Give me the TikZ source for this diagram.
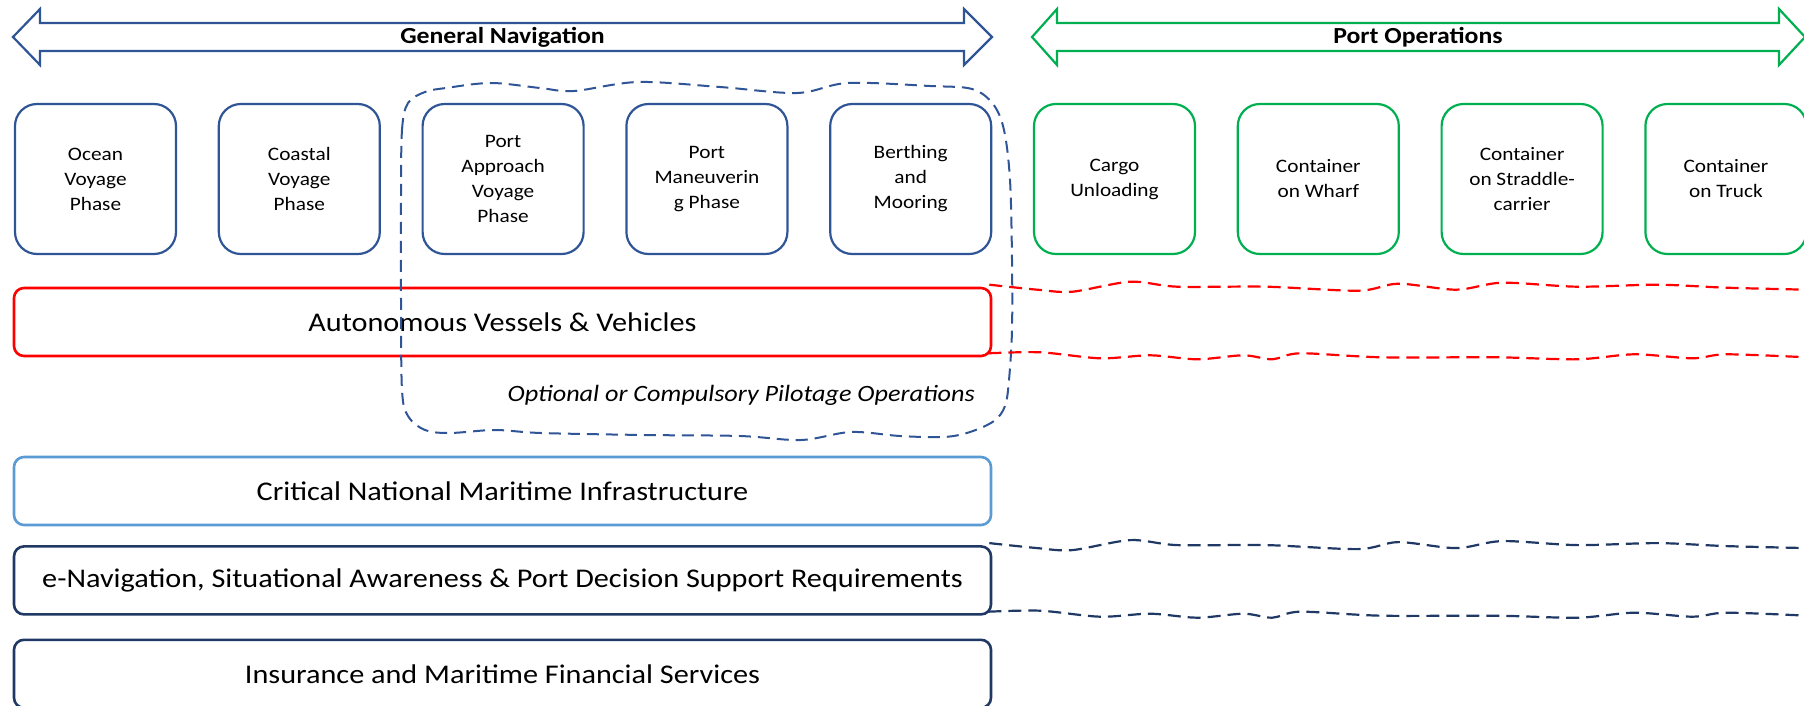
\documentclass[tikz,border=0pt]{standalone}
\usepackage{fontspec}
\setmainfont{Carlito}[FakeStretch=1.12]
\usepackage{tikz}
\usetikzlibrary{positioning}
\definecolor{navblue}{HTML}{2F5597}
\definecolor{navy}{HTML}{203864}
\definecolor{portgreen}{HTML}{00B050}
\definecolor{critblue}{HTML}{5B9BD5}

\begin{document}
\begin{tikzpicture}[
  x=0.5pt, y=-0.5pt,
  node distance=20.3pt,
  phase/.style={rectangle, rounded corners=11pt, draw=navblue, line width=1.1pt, minimum width=80.5pt, minimum height=75pt, inner sep=2pt, align=center, font=\fontsize{9.5}{12.5}\selectfont},
  layer/.style={rectangle, rounded corners=5pt, line width=1.3pt, minimum width=488.5pt, minimum height=34pt, font=\fontsize{13.5}{16}\selectfont},
  band/.style={line width=1.1pt, fill=white, line join=miter},
  wave/.style={dash pattern=on 6.5pt off 3.5pt, line width=1.1pt},
  pilot/.style={draw=navblue, dash pattern=on 6pt off 3.5pt, line width=1pt},
]
\useasboundingbox (0,0) rectangle (1804,706);

% double-headed bands on top
\draw[band, draw=navblue] (13,37) -- (40,9) -- (40,23) -- (964,23) -- (964,9) -- (992,37) -- (964,65) -- (964,51) -- (40,51) -- (40,65) -- cycle;
\draw[band, draw=portgreen] (1032,37) -- (1057,9) -- (1057,23) -- (1779,23) -- (1779,9) -- (1805,37) -- (1779,65) -- (1779,51) -- (1057,51) -- (1057,65) -- cycle;
\node[font=\bfseries\fontsize{11.5}{14}\selectfont] (gn) at (502.5,37) {General Navigation};
\node[font=\bfseries\fontsize{11.5}{14}\selectfont] (po) at (1418,37) {Port Operations};

% phases
\node[phase] (ocean) at (95.5,179) {Ocean\\Voyage\\Phase};
\node[phase, right=of ocean] (coastal) {Coastal\\Voyage\\Phase};
\node[phase, right=of coastal] (approach) {Port\\Approach\\Voyage\\Phase};
\node[phase, right=of approach] (maneuver) {Port\\Maneuverin\\g Phase};
\node[phase, right=of maneuver] (berth) {Berthing\\and\\Mooring};
\node[phase, draw=portgreen, right=of berth] (cargo) {Cargo\\Unloading};
\node[phase, draw=portgreen, right=of cargo] (wharf) {Container\\on Wharf};
\node[phase, draw=portgreen, right=of wharf] (straddle) {Container\\on Straddle-\\carrier};
\node[phase, draw=portgreen, right=of straddle] (truck) {Container\\on Truck};

% layers
\node[layer, draw=red] (auto) at (502.5,322) {Autonomous Vessels \& Vehicles};
\node[layer, draw=critblue] (crit) at (502.5,491) {Critical National Maritime Infrastructure};
\node[layer, draw=navy, below=9.4pt of crit] (enav) {e-Navigation, Situational Awareness \& Port Decision Support Requirements};
\node[layer, draw=navy, below=11.4pt of enav] (ins) {Insurance and Maritime Financial Services};

% pilotage region
\draw[pilot] plot[smooth cycle, tension=0.55] coordinates {(401,200) (402,130) (408,103) (425,92) (446,88) (491,83) (540,88) (574,91) (638,82) (720,87) (797,93) (848,83) (930,86) (972,89) (993,104) (1004,130) (1010,180) (1012,260) (1012,330) (1009,380) (1005,406) (994,421) (970,432) (944,437) (900,436) (851,432) (801,440) (740,436) (644,435) (541,433) (495,430) (450,433) (425,430) (408,416) (402,390) (401,300)};
\node[anchor=base east, font=\itshape\fontsize{11.7}{14}\selectfont] (pilotage) at (982,401) {Optional or Compulsory Pilotage Operations};

% layers carried on into port operations
\foreach \b/\c in {auto/red, enav/navy}{
  \draw[wave, draw=\c, shift={(\b.north east)}] plot[smooth] coordinates {(-3,-2) (45,3) (80,5) (138,-5) (185,0) (274,0) (366,4) (406,-3) (464,3) (510,-4) (585,0) (665,-2) (734,1) (815,3)};
  \draw[wave, draw=\c, shift={(\b.south east)}] plot[smooth] coordinates {(-4,-4) (48,-5) (108,1) (158,-2) (205,2) (251,-2) (280,2) (308,-4) (389,0) (504,0) (585,2) (642,-3) (700,1) (734,-3) (815,0)};
}
\end{tikzpicture}
\end{document}
